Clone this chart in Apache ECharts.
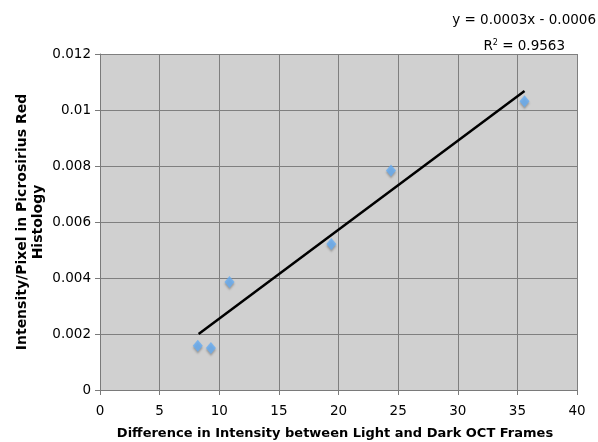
<!DOCTYPE html>
<html>
<head>
<meta charset="utf-8">
<script src="https://cdn.jsdelivr.net/npm/echarts@6/dist/echarts.min.js"></script>
<style>
html,body{margin:0;padding:0;background:#fff;}
#chart{width:598px;height:442px;}
</style>
</head>
<body>
<div id="chart"></div>
<script>
// Data
const pointsX = [8.2, 9.3, 10.86, 19.4, 24.4, 35.6];
const pointsY = [0.00158, 0.0015, 0.00386, 0.00521, 0.00784, 0.01031];
const trendX = [8.27, 35.6];
const trendY = [0.0020, 0.01068];
const xTicks = ['0', '5', '10', '15', '20', '25', '30', '35', '40'];
const yTicks = ['0', '0.002', '0.004', '0.006', '0.008', '0.01', '0.012'];
const equationText = 'y = 0.0003x - 0.0006';
const r2Text = 'R{sup|2} = 0.9563';
const xName = 'Difference in Intensity between Light and Dark OCT Frames';
const yName = 'Intensity/Pixel in Picrosirius Red\nHistology';

const font = 'DejaVu Sans, Verdana, sans-serif';
const chart = echarts.init(document.getElementById('chart'), null, {renderer: 'canvas'});

const scatterData = pointsX.map((x, i) => [x, pointsY[i]]);
const trendData = trendX.map((x, i) => [x, trendY[i]]);

chart.setOption({
  animation: false,
  backgroundColor: '#ffffff',
  grid: {
    left: 100, right: 21, top: 54, bottom: 52,
    containLabel: false, outerBoundsMode: 'none',
    show: true, backgroundColor: '#d0d0d0', borderWidth: 0
  },
  graphic: [
    {
      type: 'text', right: 2, top: 13,
      style: {text: equationText, font: '13.5px ' + font, fill: '#000'}
    },
    {
      type: 'text', right: 33, top: 39,
      style: {
        text: r2Text, font: '13.5px ' + font, fill: '#000',
        rich: {sup: {fontSize: 8, verticalAlign: 'top', padding: [0, 0, 7, 0], fontFamily: font}}
      }
    }
  ],
  xAxis: {
    type: 'value', min: 0, max: 40, interval: 5,
    name: xName, nameLocation: 'middle', nameGap: 37, nameMoveOverlap: false,
    nameTextStyle: {fontFamily: font, fontWeight: 'bold', fontSize: 13, color: '#000', padding: [0, 7, 0, 0]},
    axisLine: {show: true, lineStyle: {color: '#7a7a7a', width: 1}},
    axisTick: {show: true, length: 5, lineStyle: {color: '#7a7a7a'}},
    axisLabel: {
      fontFamily: font, fontSize: 13.5, color: '#000', margin: 14,
      formatter: (v) => xTicks[Math.round(v / 5)]
    },
    splitLine: {show: true, lineStyle: {color: '#7f7f7f', width: 1}}
  },
  yAxis: {
    type: 'value', min: 0, max: 0.012, interval: 0.002,
    name: yName, nameLocation: 'middle', nameGap: 54, nameRotate: 90, nameMoveOverlap: false,
    nameTextStyle: {fontFamily: font, fontWeight: 'bold', fontSize: 14, color: '#000', lineHeight: 16},
    axisLine: {show: true, lineStyle: {color: '#7a7a7a', width: 1}},
    axisTick: {show: true, length: 5, lineStyle: {color: '#7a7a7a'}},
    axisLabel: {
      fontFamily: font, fontSize: 13.5, color: '#000', margin: 9,
      formatter: (v) => yTicks[Math.round(v / 0.002)]
    },
    splitLine: {show: true, lineStyle: {color: '#7f7f7f', width: 1}}
  },
  series: [
    {
      type: 'line', data: trendData, symbol: 'none', z: 3,
      lineStyle: {color: '#000', width: 2.5}
    },
    {
      type: 'scatter', data: scatterData, symbol: 'diamond', symbolSize: [10, 12], z: 4,
      itemStyle: {
        color: '#65adf4',
        shadowColor: 'rgba(60,60,60,0.45)', shadowBlur: 2, shadowOffsetY: 2
      }
    }
  ]
});
</script>
</body>
</html>
